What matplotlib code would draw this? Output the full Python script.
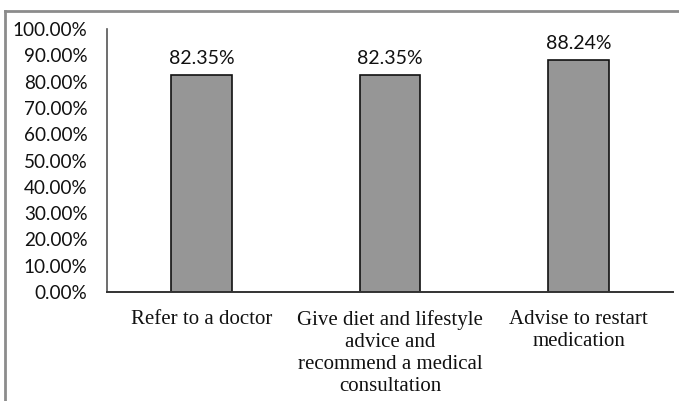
import matplotlib.pyplot as plt
from matplotlib.lines import Line2D

# survey responses: share of respondents choosing each action
actions = ['Refer to a doctor',
           'Give diet and lifestyle\nadvice and\nrecommend a medical\nconsultation',
           'Advise to restart\nmedication']
shares = [82.35, 82.35, 88.24]
yticks = [0, 10, 20, 30, 40, 50, 60, 70, 80, 90, 100]

sans = ['Lato', 'DejaVu Sans']
serif = ['Liberation Serif', 'DejaVu Serif']

fig = plt.figure(figsize=(6.79, 4.01), dpi=100)
ax = fig.add_axes([0.1576, 0.2718, 0.8334, 0.6559])

x = range(len(actions))
bars = ax.bar(x, shares, width=0.32, color='#969696', edgecolor='#111111', linewidth=1.2)

for b, v in zip(bars, shares):
    ax.annotate(f'{v:.2f}%', (b.get_x() + b.get_width() / 2, v),
                xytext=(0, 6), textcoords='offset points',
                ha='center', va='bottom', fontsize=14, family=sans, color='#111111')

ax.set_xlim(-0.5, 2.5)
ax.set_ylim(0, 100)
ax.set_yticks(yticks)
ax.set_yticklabels([f'{t:.2f}%' for t in yticks], fontsize=13.6, family=sans, color='#111111')
ax.set_xticks(list(x))
ax.set_xticklabels(actions, fontsize=15, family=serif, color='#111111', linespacing=1.22)
ax.tick_params(axis='y', length=0, pad=14)
ax.tick_params(axis='x', length=0, pad=13)

for side in ['top', 'right']:
    ax.spines[side].set_visible(False)
ax.spines['left'].set_color('#555555')
ax.spines['bottom'].set_color('#333333')
ax.spines['left'].set_linewidth(1.2)
ax.spines['bottom'].set_linewidth(1.4)

# grey frame on the top and left edges
fig.add_artist(Line2D([4.5 / 679, 1], [1 - 10.5 / 401, 1 - 10.5 / 401],
                      color='#8c8c8c', linewidth=2, transform=fig.transFigure))
fig.add_artist(Line2D([4.5 / 679, 4.5 / 679], [0, 1 - 10.5 / 401],
                      color='#8c8c8c', linewidth=2, transform=fig.transFigure))

fig.savefig('out.png', dpi=100, facecolor='white')
